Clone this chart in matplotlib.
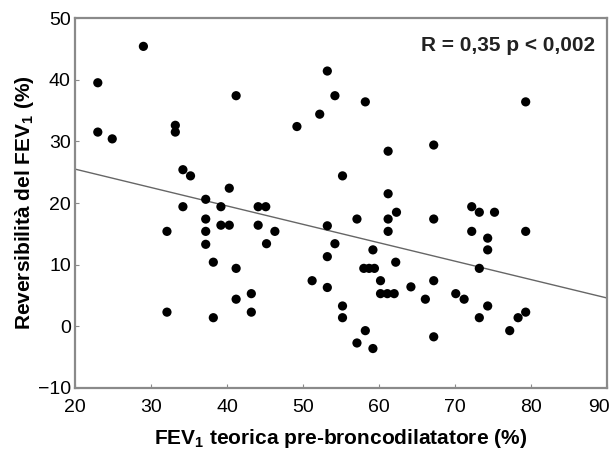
import numpy as np
import matplotlib.pyplot as plt
from matplotlib.transforms import ScaledTranslation

plt.rcParams['font.family'] = ['Liberation Sans', 'DejaVu Sans']
plt.rcParams['mathtext.fontset'] = 'custom'
plt.rcParams['mathtext.rm'] = 'Liberation Sans'
plt.rcParams['mathtext.bf'] = 'Liberation Sans:bold'

# FEV1 teorica (%) vs reversibilita (%)
fev1 = [23, 23, 24.9, 29, 33.2, 33.2, 34.2, 35.2, 34.2, 32.1, 32.1,
        37.2, 37.2, 37.2, 37.2, 38.2, 38.2, 39.2, 39.2, 40.3, 40.3, 41.2, 41.2, 41.2,
        43.2, 43.2, 44.1, 44.1, 45.1, 45.2, 46.3,
        49.2, 52.2, 53.2, 54.2, 53.2, 53.2, 54.2, 53.2, 51.2, 55.2, 55.2, 55.2,
        57.1, 57.1, 58.2, 58.2, 59.2, 58.0, 58.7, 59.4, 59.2, 60.2,
        61.2, 61.2, 61.2, 61.2, 62.3, 62.2, 60.2, 61.1, 62.0, 64.2, 66.1,
        67.2, 67.2, 67.2, 67.2,
        70.1, 71.2, 72.2, 73.2, 72.2, 75.2, 73.2, 74.3, 74.3, 74.3, 73.2,
        77.2, 78.3, 79.3, 79.3, 79.3]
rev = [39.5, 31.5, 30.4, 45.4, 32.6, 31.5, 25.4, 24.4, 19.4, 15.4, 2.3,
       20.6, 17.4, 15.4, 13.3, 10.4, 1.4, 19.4, 16.4, 16.4, 22.4, 37.4, 9.4, 4.4,
       5.3, 2.3, 16.4, 19.4, 19.4, 13.4, 15.4,
       32.4, 34.4, 41.4, 37.4, 16.3, 11.3, 13.4, 6.3, 7.4, 24.4, 3.3, 1.4,
       17.4, -2.7, 36.4, -0.7, 12.4, 9.4, 9.4, 9.4, -3.6, 7.4,
       28.4, 21.5, 17.4, 15.4, 18.5, 10.4, 5.3, 5.3, 5.3, 6.4, 4.4,
       29.4, 17.4, 7.4, -1.7,
       5.3, 4.4, 19.4, 18.5, 15.4, 18.5, 9.4, 14.3, 12.4, 3.3, 1.4,
       -0.7, 1.4, 2.3, 36.4, 15.4]

# retta di regressione
slope = -0.2986
intercept = 31.47

fig = plt.figure(figsize=(6.12, 4.53), dpi=100)
ax = fig.add_axes([75/612, 1-388/453, (607-75)/612, (388-18)/453])

ax.scatter(fev1, rev, s=44, color='black', edgecolors='none', zorder=3)
xl = np.array([20, 90])
ax.plot(xl, intercept + slope*xl, color='#666666', lw=1.0, zorder=2)

ax.set_xlim(20, 90)
ax.set_ylim(-10, 50)
ax.set_xticks(range(20, 91, 10))
ax.set_yticks(range(-10, 51, 10))
for s in ax.spines.values():
    s.set_color('#8a8a8a')
    s.set_linewidth(1.6)
ax.tick_params(direction='in', length=3, color='#8a8a8a', labelsize=14)
ax.tick_params(axis='x', pad=8)
ax.tick_params(axis='y', pad=3)

# l'ultima etichetta tocca il bordo: spostala un poco a sinistra
last = ax.get_xticklabels()[-1]
last.set_transform(last.get_transform() + ScaledTranslation(-6/72, 0, fig.dpi_scale_trans))

ax.set_xlabel(r'FEV$_\mathbf{1}$ teorica pre-broncodilatatore (%)',
              fontsize=15, fontweight='bold', labelpad=8)
ax.set_ylabel(r'Reversibilità del FEV$_\mathbf{1}$ (%)',
              fontsize=15, fontweight='bold', labelpad=1)
ax.text(0.978, 0.925, 'R = 0,35 p < 0,002', transform=ax.transAxes,
        ha='right', va='center', fontsize=15, fontweight='bold', color='#222222')

fig.savefig('out.png', dpi=100)
